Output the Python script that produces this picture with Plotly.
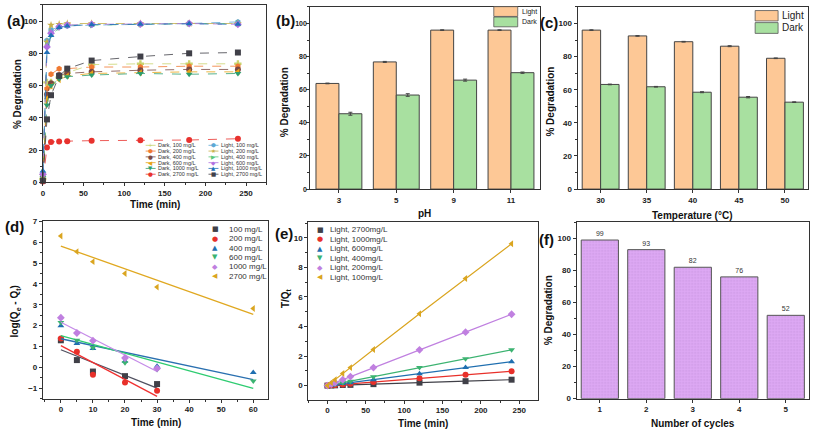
import plotly.graph_objects as go
import numpy as np

W, H = 813, 435
def px(x): return x / W
def py(y): return 1 - y / H

# ---------------- data ----------------
# (a) % degradation vs time
time_a = [0, 5, 10, 20, 30, 60, 120, 180, 240]
dark_100 = [2, 62, 62, 65, 68, 73, 73.5, 73.5, 73.5]
dark_200 = [1, 58, 67, 70.5, 70.5, 71.5, 71.5, 72, 72]
dark_400 = [1, 54.5, 61.5, 66.5, 67.5, 68.5, 69.5, 70, 70]
dark_600 = [2, 52, 59.5, 63.5, 66, 67.5, 68, 68.5, 68.5]
dark_1000 = [3, 48, 60, 64, 65.5, 66.5, 67.5, 67, 67.5]
dark_2700 = [0.5, 21.5, 25, 25.3, 25.5, 25.8, 26, 26.2, 27]
light_100 = [5, 88, 94.5, 96.5, 97, 97.5, 98, 98.5, 99.5]
light_200 = [4, 87, 97.5, 98, 98.5, 98.5, 98.5, 98.5, 98.5]
light_400 = [6, 85, 91, 96, 97.5, 97.5, 98, 98.5, 98.5]
light_600 = [5, 84, 92.5, 96.5, 97.5, 98, 98.2, 98.5, 98]
light_1000 = [7, 80.5, 91, 96, 97, 97.8, 98, 98.3, 98]
light_2700 = [1, 39, 54, 66, 70.5, 75.5, 78, 80, 80.5]

# (b) pH
ph_labels = ["3", "5", "9", "11"]
ph_light = [63.8, 76.8, 96.0, 96.0]
ph_dark = [45.5, 56.8, 65.8, 70.3]
ph_light_err = [0.2, 0.3, 0.2, 0.2]
ph_dark_err = [0.9, 0.8, 0.6, 0.4]

# (c) temperature
temp_labels = ["30", "35", "40", "45", "50"]
temp_light = [96.0, 92.5, 89.0, 86.3, 79.0]
temp_dark = [63.2, 61.8, 58.5, 55.5, 52.5]
temp_light_err = [0.2, 0.2, 0.2, 0.3, 0.2]
temp_dark_err = [0.2, 0.2, 0.3, 0.4, 0.2]

# (d) pseudo-first-order
t_d_short = [0, 5, 10, 20, 30]
t_d_long = [0, 5, 10, 20, 30, 60]
pfo_100 = [1.3, 0.35, -0.2, -0.42, -0.8]
pfo_200 = [1.38, 0.75, -0.35, -0.73, -1.12]
pfo_400 = [2.0, 1.15, 0.9, 0.3, 0.05, -0.25]
pfo_600 = [2.15, 1.3, 0.95, 0.22, -0.1, -0.65]
pfo_1000 = [2.38, 1.65, 1.28, 0.45, -0.05]
pfo_2700 = [6.3, 5.55, 5.07, 4.5, 3.85, 2.82]

# (e) pseudo-second-order
time_e = [0, 5, 10, 20, 30, 60, 120, 180, 240]
pso_2700 = [0, 0.01, 0.02, 0.04, 0.05, 0.1, 0.2, 0.3, 0.4]
pso_1000 = [0, 0.02, 0.04, 0.08, 0.12, 0.25, 0.49, 0.73, 0.97]
pso_600 = [0, 0.03, 0.07, 0.14, 0.2, 0.4, 0.81, 1.22, 1.62]
pso_400 = [0, 0.05, 0.1, 0.2, 0.3, 0.6, 1.22, 1.82, 2.42]
pso_200 = [0, 0.1, 0.2, 0.4, 0.61, 1.22, 2.42, 3.62, 4.83]
pso_100 = [0, 0.2, 0.4, 0.82, 1.22, 2.45, 4.87, 7.25, 9.6]

# (f) recycling
cycles = ["1", "2", "3", "4", "5"]
cycle_deg = [99, 93, 82, 76, 52]

# ---------------- styles ----------------
FONT = "Liberation Sans, Arial, sans-serif"
AX = "#333333"
ORANGE_BAR = "#FDC896"
GREEN_BAR = "#A8E0A0"
PURPLE_BAR = "#DDA8F4"

fig = go.Figure()

# (a)
a_series = [
    ("Dark, 100 mg/L", dark_100, "#C9D46E", "cross", "+"),
    ("Dark, 200 mg/L", dark_200, "#F07A32", "hexagon", "⬢"),
    ("Dark, 400 mg/L", dark_400, "#7A4842", "circle", "●"),
    ("Dark, 600 mg/L", dark_600, "#E8A317", "triangle-left", "◀"),
    ("Dark, 1000 mg/L", dark_1000, "#2E9E6E", "triangle-down", "▼"),
    ("Dark, 2700 mg/L", dark_2700, "#E8322E", "circle", "●"),
    ("Light, 100 mg/L", light_100, "#5DA8D5", "hexagon", "⬢"),
    ("Light, 200 mg/L", light_200, "#C8B048", "star", "★"),
    ("Light, 400 mg/L", light_400, "#5BC878", "triangle-right", "▶"),
    ("Light, 600 mg/L", light_600, "#B070E0", "diamond", "◆"),
    ("Light, 1000 mg/L", light_1000, "#2070B8", "triangle-up", "▲"),
    ("Light, 2700 mg/L", light_2700, "#404048", "square", "■"),
]
for name, ys, col, sym, _ in a_series:
    fig.add_trace(go.Scatter(
        x=time_a, y=ys, name=name, mode="lines+markers", showlegend=False,
        line=dict(color=col, width=0.8, dash="dash"),
        marker=dict(symbol=sym, size=6, color=col),
        cliponaxis=False, xaxis="x", yaxis="y"))

# (b)
fig.add_trace(go.Bar(x=ph_labels, y=ph_light, name="Light", showlegend=False,
                     marker=dict(color=ORANGE_BAR, line=dict(color="#444", width=1)),
                     error_y=dict(type="data", array=ph_light_err, color="#444", thickness=1, width=2),
                     xaxis="x2", yaxis="y2"))
fig.add_trace(go.Bar(x=ph_labels, y=ph_dark, name="Dark", showlegend=False,
                     marker=dict(color=GREEN_BAR, line=dict(color="#444", width=1)),
                     error_y=dict(type="data", array=ph_dark_err, color="#444", thickness=1, width=2),
                     xaxis="x2", yaxis="y2"))
# (c)
fig.add_trace(go.Bar(x=temp_labels, y=temp_light, name="Light", showlegend=False,
                     marker=dict(color=ORANGE_BAR, line=dict(color="#444", width=1)),
                     error_y=dict(type="data", array=temp_light_err, color="#444", thickness=1, width=2),
                     xaxis="x3", yaxis="y3"))
fig.add_trace(go.Bar(x=temp_labels, y=temp_dark, name="Dark", showlegend=False,
                     marker=dict(color=GREEN_BAR, line=dict(color="#444", width=1)),
                     error_y=dict(type="data", array=temp_dark_err, color="#444", thickness=1, width=2),
                     xaxis="x3", yaxis="y3"))

# (d)
d_series = [
    ("100 mg/L", t_d_short, pfo_100, "#404048", "#505060", "square", "■"),
    ("200 mg/L", t_d_short, pfo_200, "#E8302A", "#F03030", "circle", "●"),
    ("400 mg/L", t_d_long, pfo_400, "#1F6FB0", "#2A70B0", "triangle-up", "▲"),
    ("600 mg/L", t_d_long, pfo_600, "#3CB371", "#2ECC71", "triangle-down", "▼"),
    ("1000 mg/L", t_d_short, pfo_1000, "#C080E0", "#C58BE8", "diamond", "◆"),
    ("2700 mg/L", t_d_long, pfo_2700, "#DAA520", "#E0A820", "triangle-left", "◀"),
]
for name, tx, ys, mcol, lcol, sym, _ in d_series:
    slope, icpt = np.polyfit(tx, ys, 1)
    tfit = np.array([min(tx), max(tx)], dtype=float)
    fig.add_trace(go.Scatter(x=tfit, y=slope * tfit + icpt, mode="lines", showlegend=False,
                             line=dict(color=lcol, width=1.3), xaxis="x4", yaxis="y4"))
    fig.add_trace(go.Scatter(x=tx, y=ys, name=name, mode="markers", showlegend=False,
                             marker=dict(symbol=sym, size=6, color=mcol),
                             cliponaxis=False, xaxis="x4", yaxis="y4"))

# (e)
e_series = [
    ("Light, 2700mg/L", pso_2700, "#404048", "square", "■"),
    ("Light, 1000mg/L", pso_1000, "#E8302A", "circle", "●"),
    ("Light, 600mg/L", pso_600, "#1F6FB0", "triangle-up", "▲"),
    ("Light, 400mg/L", pso_400, "#3CB371", "triangle-down", "▼"),
    ("Light, 200mg/L", pso_200, "#C080E0", "diamond", "◆"),
    ("Light, 100mg/L", pso_100, "#DAA520", "triangle-left", "◀"),
]
for name, ys, col, sym, _ in e_series:
    fig.add_trace(go.Scatter(x=time_e, y=ys, name=name, mode="lines+markers", showlegend=False,
                             line=dict(color=col, width=1.2),
                             marker=dict(symbol=sym, size=6, color=col),
                             cliponaxis=False, xaxis="x5", yaxis="y5"))

# (f)
fig.add_trace(go.Bar(x=cycles, y=cycle_deg, name="Cycles", showlegend=False,
                     text=[str(v) for v in cycle_deg], textposition="outside",
                     textfont=dict(size=7, color="#333", family=FONT),
                     cliponaxis=False,
                     marker=dict(color=PURPLE_BAR, line=dict(color="#555", width=1),
                                 pattern=dict(shape=".", fgcolor="#B585CC", bgcolor=PURPLE_BAR,
                                              size=3, solidity=0.25)),
                     xaxis="x6", yaxis="y6"))

# ---------------- axes ----------------
tickfont = dict(family=FONT, size=8, color="#222", weight="bold")
titlefont = dict(family=FONT, size=10, color="#111", weight="bold")

def axis(domain, anchor, rng=None, dtick=None, minor_dtick=None, cat=False, fsize=8, standoff=0):
    d = dict(domain=domain, anchor=anchor, showline=True, linecolor=AX, linewidth=1,
             mirror=True, ticks="outside", ticklen=3, tickwidth=1, tickcolor=AX,
             showgrid=False, zeroline=False, tickfont=dict(tickfont, size=fsize),
             ticklabelstandoff=standoff)
    if rng is not None:
        d["range"] = rng
    if dtick is not None:
        d["dtick"] = dtick
        d["tick0"] = 0
    if minor_dtick is not None:
        d["minor"] = dict(ticks="outside", ticklen=2, tickwidth=1, tickcolor=AX,
                          dtick=minor_dtick, tick0=0, showgrid=False)
    if cat:
        d["type"] = "category"
    return d

fig.update_layout(
    width=W, height=H, margin=dict(l=0, r=0, t=0, b=0),
    paper_bgcolor="white", plot_bgcolor="white",
    barmode="group", bargap=0.2, bargroupgap=0.0,
    showlegend=False,
    font=dict(family=FONT),
    xaxis=axis([px(41), px(265)], "y", [0, 275], 50, 25),
    yaxis=axis([py(182), py(1)], "x", [0, 110], 20, 10),
    xaxis2=axis([px(309), px(539)], "y2", cat=True),
    yaxis2=axis([py(189), py(3)], "x2", [0, 110], 20, 10, fsize=7, standoff=-2),
    xaxis3=axis([px(577), px(808)], "y3", cat=True),
    yaxis3=axis([py(189), py(3)], "x3", [0, 110], 20, 10),
    xaxis4=axis([px(41), px(267)], "y4", [-5.6, 64.7], 10, 5),
    yaxis4=axis([py(403), py(222)], "x4", [-1.5, 7], 1, 0.5),
    xaxis5=axis([px(307), px(537)], "y5", [-25, 274], 50, 25),
    yaxis5=axis([py(404), py(223)], "x5", [-0.95, 11.05], 2, 1),
    xaxis6=axis([px(576), px(809)], "y6", cat=True),
    yaxis6=axis([py(403), py(223)], "x6", [0, 110], 20, 10),
)

# ---------------- annotations / legends ----------------
ann = []
shapes = []

def text_at(txt, x, y, font, xanchor="center", angle=0):
    ann.append(dict(text=txt, x=px(x), y=py(y), xref="paper", yref="paper", showarrow=False,
                    font=font, xanchor=xanchor, yanchor="middle", textangle=angle))

panel_labels = [("(a)", 14, 17), ("(b)", 284, 17), ("(c)", 548, 19),
                ("(d)", 13, 227), ("(e)", 283, 234), ("(f)", 546, 240)]
for txt, x, y in panel_labels:
    text_at(txt, x, y, dict(family=FONT, size=15, color="#111", weight="bold"))

# axis titles
axis_titles = [
    ("Time (min)", 153, 205, 0), ("% Degradation", 15, 92, -90),
    ("pH", 424, 214, 0), ("% Degradation", 284, 100, -90),
    ("Temperature (°C)", 692, 216, 0), ("% Degradation", 550, 100, -90),
    ("Time (min)", 154, 427, 0), ("log(Q<sub>e</sub> - Q<sub>t</sub>)", 13, 314, -90),
    ("Time (min)", 422, 428, 0), ("T/Q<sub>t</sub>", 284, 300, -90),
    ("Number of cycles", 693, 428, 0), ("% Degradation", 548, 313, -90),
]
for txt, x, y, ang in axis_titles:
    text_at(txt, x, y, titlefont, angle=ang)

# (a) legend: two columns
rows_a = [144.3, 150.2, 156.1, 162.0, 167.9, 173.8]
for i, (name, _, col, _, glyph) in enumerate(a_series):
    colx = 0 if i < 6 else 1
    r = i % 6
    kx = 149 if colx == 0 else 212
    tx = 154.5 if colx == 0 else 217.5
    y = rows_a[r]
    shapes.append(dict(type="line", xref="paper", yref="paper",
                       x0=px(kx - 5), x1=px(kx + 5), y0=py(y), y1=py(y),
                       line=dict(color=col, width=0.8)))
    text_at(glyph, kx, y, dict(family="DejaVu Sans", size=5.5, color=col))
    text_at(name, tx, y, dict(family=FONT, size=5.5, color="#333"), xanchor="left")

# (d) legend
rows_d = [230, 239.6, 249.2, 258.8, 268.4, 278]
for (name, _, _, mcol, _, _, glyph), y in zip(d_series, rows_d):
    text_at(glyph, 214, y, dict(family="DejaVu Sans", size=7, color=mcol))
    text_at(name, 226, y, dict(family=FONT, size=8, color="#333"), xanchor="left")

# (e) legend
rows_e = [230.7, 240.4, 250.1, 259.8, 269.5, 279.2]
for (name, _, col, _, glyph), y in zip(e_series, rows_e):
    text_at(glyph, 319, y, dict(family="DejaVu Sans", size=7, color=col))
    text_at(name, 327, y, dict(family=FONT, size=8, color="#333"), xanchor="left")

# (b) & (c) legends (boxes)
bar_leg = [
    (493, 517, [(2.7, 12.7), (13.3, 23.3)], 519, 7),
    (755, 778, [(6.7, 17.3), (19.0, 30.0)], 780, 10),
]
for x0, x1, rows, tx, fs in bar_leg:
    for (y0, y1), col, name in zip(rows, [ORANGE_BAR, GREEN_BAR], ["Light", "Dark"]):
        shapes.append(dict(type="rect", xref="paper", yref="paper",
                           x0=px(x0), x1=px(x1), y0=py(y1), y1=py(y0),
                           fillcolor=col, line=dict(color="#555", width=0.8)))
        text_at(name, tx, (y0 + y1) / 2, dict(family=FONT, size=fs, color="#222"), xanchor="left")

fig.update_layout(annotations=ann, shapes=shapes)
fig.write_html("out.html", config={"displayModeBar": False},
               post_script="document.body.style.margin='0';document.body.style.overflow='hidden';")
